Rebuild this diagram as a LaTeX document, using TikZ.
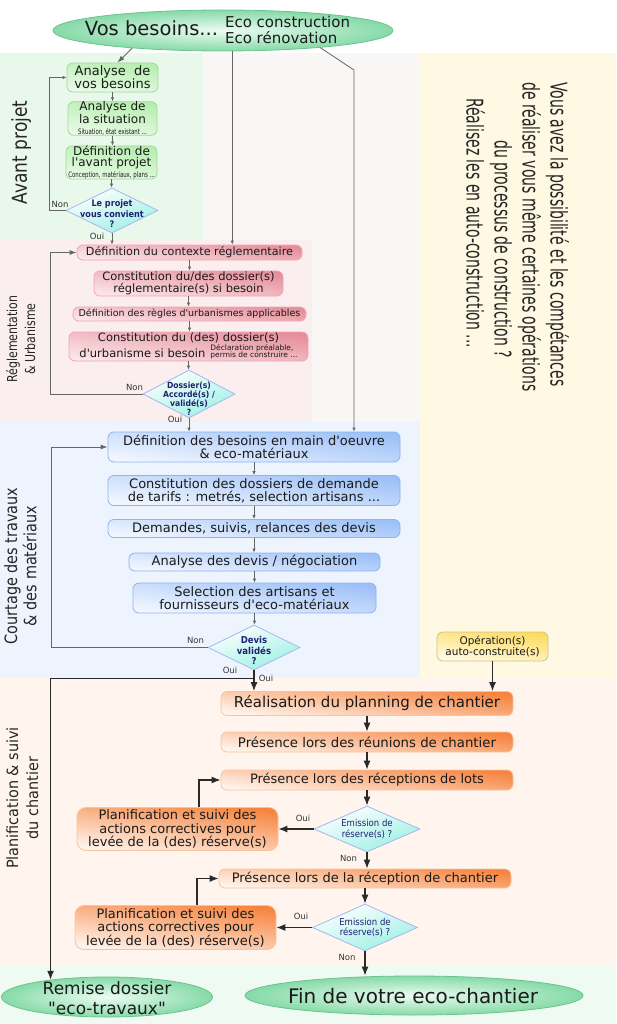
\documentclass[tikz,border=0pt]{standalone}
\usepackage{fontspec}
\usepackage{graphicx}
\setmainfont{DejaVu Sans}[Ligatures=TeXOff]
\newfontfamily\condf{DejaVu Sans Condensed}[Ligatures=TeXOff]
\usetikzlibrary{shapes.geometric,arrows.meta}
\newcommand{\setfs}[2]{\fontsize{#1}{#2}\selectfont}
\newcommand{\tinytxt}[1]{{\condf\setfs{7.5}{8}\scalebox{0.8}[1]{#1}}}
\definecolor{bgwhite}{HTML}{FFFFFF}
\definecolor{bggreen}{HTML}{E8F8EA}
\definecolor{bggray}{HTML}{F9F6F6}
\definecolor{bgpink}{HTML}{FBEEEE}
\definecolor{bgblue}{HTML}{EEF4FE}
\definecolor{bgyel}{HTML}{FFF8E2}
\definecolor{bgpeach}{HTML}{FFF5EE}
\definecolor{bggreentwo}{HTML}{EFFAF3}
\definecolor{gbd}{HTML}{A2D89C}\definecolor{gdk}{HTML}{B5EEAE}\definecolor{glt}{HTML}{EAFBE8}
\definecolor{pbd}{HTML}{F2A2BC}\definecolor{pdk}{HTML}{E58E9A}\definecolor{plt}{HTML}{FCE6E9}
\definecolor{bbd}{HTML}{8DB3F0}\definecolor{bdk}{HTML}{9CC0F8}\definecolor{blt}{HTML}{F2F7FF}
\definecolor{obd}{HTML}{F8C3A0}\definecolor{odk}{HTML}{F6843F}\definecolor{olt}{HTML}{FFF4EC}
\definecolor{ybd}{HTML}{C9C58E}\definecolor{ydk}{HTML}{FFDA5C}\definecolor{ylt}{HTML}{FFFBE8}
\definecolor{dbd}{HTML}{A8B6EE}\definecolor{ddk}{HTML}{9BF0E4}\definecolor{dlt}{HTML}{FFFFFF}
\definecolor{ebd}{HTML}{6CC48C}\definecolor{edk}{HTML}{86DAA8}\definecolor{elt}{HTML}{EDFCF2}
\definecolor{navy}{HTML}{1E2270}
\definecolor{txt}{HTML}{1A1A1A}
\definecolor{lgray}{HTML}{666666}
\definecolor{dline}{HTML}{2A2A2A}
\begin{document}
\begin{tikzpicture}[x=1pt,y=-1pt,
  every node/.style={inner sep=0pt, text=txt, align=center},
  box/.style={rectangle, rounded corners=6pt, line width=0.8pt},
  gbox/.style={box, draw=gbd, top color=gdk, bottom color=glt, shading angle=-8},
  pbox/.style={box, draw=pbd, top color=pdk, bottom color=plt, shading angle=-8},
  bbox/.style={box, draw=bbd, top color=bdk, bottom color=blt, shading angle=-8},
  obox/.style={box, draw=obd, top color=odk, bottom color=olt, shading angle=-8},
  ybox/.style={box, draw=ybd, top color=ydk, bottom color=ylt, shading angle=-8},
  dia/.style={diamond, aspect=2, draw=dbd, line width=0.8pt, top color=dlt, bottom color=ddk, shading angle=20},
  ell/.style={ellipse, draw=ebd, line width=0.8pt, inner color=elt, outer color=edk},
  dtxt/.style={text=navy, font=\condf\bfseries\setfs{9}{10.5}},
  lab/.style={font=\setfs{8.5}{9}, text=black!80},
  side/.style={rotate=90, text=black!85},
  arrS/.style={draw=lgray, line width=0.8pt, -{Latex[length=4pt,width=3.5pt]}},
  arrM/.style={draw=lgray, line width=0.9pt, -{Latex[length=7pt,width=5pt]}},
  arrL/.style={draw=dline, line width=1.1pt, -{Latex[length=9pt,width=7pt]}}
]
\useasboundingbox (0,0) rectangle (616,1024);
% background bands
\fill[bgwhite] (0,0) rectangle (616,53);
\fill[bggray] (203,53) rectangle (420,422);
\fill[bggreen] (0,53) rectangle (203,240);
\fill[bgpink] (0,240) rectangle (312,422);
\fill[bgblue] (0,422) rectangle (420,678);
\fill[bgyel] (420,53) rectangle (616,678);
\fill[bgpeach] (0,678) rectangle (616,965);
\fill[bggreentwo] (0,965) rectangle (616,1024);

% side labels
\node[side, anchor=base] (sAv) at (27,152.5) {\scalebox{0.83}[1]{\setfs{20.5}{22}Avant projet}};
\node[side] (sRe) at (22.5,339) {\scalebox{0.8}[1]{\setfs{13.7}{18}\begin{tabular}{@{}c@{}}Réglementation\\\& Urbanisme\end{tabular}}};
\node[side] (sCo) at (23,566) {\scalebox{0.85}[1]{\setfs{17}{19}\begin{tabular}{@{}c@{}}Courtage des travaux\\\& des matériaux\end{tabular}}};
\node[side] (sPl) at (24,798) {\scalebox{0.93}[1]{\setfs{15.5}{20}\begin{tabular}{@{}c@{}}Planification \& suivi\\du chantier\end{tabular}}};
\node[rotate=-90, anchor=north west, text=black!85] (sRight) at (570.5,82) {\scalebox{0.61}[1]{\setfs{23}{28}\begin{tabular}{@{}l@{}}Vous avez la possibilité et les compétances\\de réaliser vous même certaines opérations\\\hspace*{95pt}du processus de construction ?\\\hspace*{26pt}Réalisez les en auto-construction ...\end{tabular}}};

% top ellipse
\node[ell, minimum width=340, minimum height=41] (top) at (223,30.5) {};
\node (topt) at (217.5,32.3) {{\setfs{19.5}{20}Vos besoins...}\hspace{7pt}{\setfs{15}{16}\begin{tabular}{@{}l@{}}Eco construction\\Eco rénovation\end{tabular}}};
\coordinate (k3) at (354,70);

% avant projet
\node[gbox, minimum width=91, minimum height=29, font=\setfs{13}{13}] (ab) at (112.5,77.5) {Analyse\ \ de\\vos besoins};
\node[gbox, minimum width=89, minimum height=33, font=\setfs{12}{11}] (as) at (112.5,118.5) {Analyse de\\la situation\\\tinytxt{Situation, état existant ...}};
\node[gbox, minimum width=91, minimum height=33, font=\setfs{12}{11}] (dap) at (111.5,162.5) {Définition de\\l'avant projet\\\tinytxt{Conception, matériaux, plans ...}};
\node[dia, minimum width=92, minimum height=45] (d1) at (112,210.5) {};
\node[dtxt] (d1t) at (112,214) {Le projet\\vous convient\\?};
\node[lab] (n1) at (60,204) {Non};
\node[lab] (o1) at (97,236) {Oui};

% reglementation
\node[pbox, minimum width=225, minimum height=15, font=\setfs{11.2}{12}] (ctx) at (189.5,252.5) {Définition du contexte réglementaire};
\node[pbox, minimum width=189, minimum height=25, font=\setfs{11.5}{11.7}] (cr) at (188.5,283.5) {Constitution du/des dossier(s)\\réglementaire(s) si besoin};
\node[pbox, minimum width=233, minimum height=14, font=\setfs{9.5}{10}] (rg) at (189.5,314) {Définition des règles d'urbanismes applicables};
\node[pbox, minimum width=239, minimum height=29, font=\setfs{11.5}{13}] (urb) at (188.5,346.5) {Constitution du (des) dossier(s)\\d'urbanisme si besoin\hspace{5pt}{\setfs{7.5}{7.5}\begin{tabular}[b]{@{}l@{}}Déclaration préalable,\\permis de construire ...\end{tabular}}};
\node[dia, minimum width=92, minimum height=48] (d2) at (189,394) {};
\node[dtxt, font=\condf\bfseries\setfs{8.5}{9}] (d2t) at (189,398.5) {Dossier(s)\\Accordé(s) /\\validé(s)\\?};
\node[lab] (n2) at (134.5,387) {Non};
\node[lab] (o2) at (175,419) {Oui};

% courtage
\node[bbox, minimum width=292, minimum height=30, font=\setfs{13}{13.3}] (bes) at (254,447) {Définition des besoins en main d'oeuvre\\\& eco-matériaux};
\node[bbox, minimum width=292, minimum height=30, font=\setfs{13}{13.3}] (cd) at (254,490.5) {Constitution des dossiers de demande\\de tarifs : metrés, selection artisans ...};
\node[bbox, minimum width=292, minimum height=18, font=\setfs{13}{13.3}] (dm) at (254,528.5) {Demandes, suivis, relances des devis};
\node[bbox, minimum width=251, minimum height=18, font=\setfs{13}{13.3}] (an) at (254.5,562) {Analyse des devis / négociation};
\node[bbox, minimum width=243, minimum height=30, font=\setfs{13}{13.3}] (sl) at (254.5,598) {Selection des artisans et\\fournisseurs d'eco-matériaux};
\node[dia, minimum width=92, minimum height=45] (d3) at (254,647.5) {};
\node[dtxt, font=\condf\bfseries\setfs{9.5}{10.3}] (d3t) at (254,650.5) {Devis\\validés\\?};
\node[lab] (n3) at (195.5,640) {Non};
\node[lab] (o3a) at (230,670) {Oui};
\node[lab] (o3b) at (266,678) {Oui};

% auto-construction
\node[ybox, minimum width=111, minimum height=29, font=\setfs{10.5}{11}] (op) at (492.5,646.5) {Opération(s)\\auto-construite(s)};

% planification
\node[obox, minimum width=292, minimum height=24, font=\setfs{15}{16}] (real) at (367,703.5) {Réalisation du planning de chantier};
\node[obox, minimum width=292, minimum height=20, font=\setfs{13.3}{14}] (reu) at (367,742) {Présence lors des réunions de chantier};
\node[obox, minimum width=292, minimum height=20, font=\setfs{13}{14}] (lots) at (367,780) {Présence lors des réceptions de lots};
\node[dia, minimum width=106, minimum height=46] (e1) at (367,829) {};
\node[dtxt, font=\condf\setfs{9.5}{10.7}] (e1t) at (367,829) {Emission de\\réserve(s) ?};
\node[obox, rounded corners=9pt, minimum width=201, minimum height=43, font=\setfs{13}{13.5}] (pl1) at (177.5,829) {Planification et suivi des\\actions correctives pour\\levée de la (des) réserve(s)};
\node[obox, minimum width=292, minimum height=19, font=\setfs{13}{14}] (rec) at (365,878.5) {Présence lors de la réception de chantier};
\node[dia, minimum width=105, minimum height=47] (e2) at (365,927.5) {};
\node[dtxt, font=\condf\setfs{9.5}{10.7}] (e2t) at (365,927.5) {Emission de\\réserve(s) ?};
\node[obox, rounded corners=9pt, minimum width=201, minimum height=44, font=\setfs{13}{13.5}] (pl2) at (175.5,927.5) {Planification et suivi des\\actions correctives pour\\levée de la (des) réserve(s)};
\node[lab] (o4) at (303,818.7) {Oui};
\node[lab] (n4) at (348.5,858.7) {Non};
\node[lab] (o5) at (301,916.7) {Oui};
\node[lab] (n5) at (347,957) {Non};

% bottom ellipses
\node[ell, minimum width=211, minimum height=40] (rem) at (107,997) {};
\node[font=\setfs{17}{20}] (remt) at (107,998) {Remise dossier\\"eco-travaux"};
\node[ell, minimum width=338, minimum height=39] (fin) at (414,995.5) {};
\node[font=\setfs{20}{22}] (fint) at (413,996) {Fin de votre eco-chantier};

% connectors: top
\draw[arrM] (top.191) -- ([xshift=5pt]ab.north);
\draw[arrS] (top.-66) -- (top.-66 |- ctx.north);
\draw[arrS] (top.-10) -- (k3) -- (k3 |- bes.north);
% avant projet
\draw[arrS] (ab.south) -- (ab.south |- as.north);
\draw[arrS] (as.south) -- (as.south |- dap.north);
\draw[arrS] (dap.south) -- (dap.south |- d1.north);
\draw[arrS] (d1.west) -- ++(-16,0) |- (ab.west);
\draw[arrS] (d1.south) -- (d1.south |- ctx.north);
% reglementation
\draw[arrS] (ctx.south) -- (ctx.south |- cr.north);
\draw[arrS] (cr.south) -- (cr.south |- rg.north);
\draw[arrS] (rg.south) -- (rg.south |- urb.north);
\draw[arrS] (urb.south) -- (urb.south |- d2.north);
\draw[arrM] (d2.west) -- ++(-92,0) |- (ctx.west);
\draw[arrS] (d2.south) -- (d2.south |- bes.north);
% courtage
\draw[arrS] (bes.south) -- (bes.south |- cd.north);
\draw[arrS] (cd.south) -- (cd.south |- dm.north);
\draw[arrS] (dm.south) -- (dm.south |- an.north);
\draw[arrS] (an.south) -- (an.south |- sl.north);
\draw[arrS] (sl.south) -- (sl.south |- d3.north);
\draw[arrM] (d3.west) -- ++(-156,0) |- (bes.west);
\draw[arrL] (d3.south) -- (d3.south |- real.north);
\draw[arrL] (d3.south) ++(0,8) -| (rem.163);
\draw[arrL] (op.south) -- (op.south |- real.north);
% planification
\draw[arrL] (real.south) -- (real.south |- reu.north);
\draw[arrL] (reu.south) -- (reu.south |- lots.north);
\draw[arrL] (lots.south) -- (lots.south |- e1.north);
\draw[arrL] (e1.west) -- (pl1.east);
\draw[arrL] ([xshift=21.5pt]pl1.north) |- (lots.west);
\draw[arrL] (e1.south) -- (e1.south |- rec.north);
\draw[arrL] (rec.south) -- (rec.south |- e2.north);
\draw[arrL] (e2.west) -- (pl2.east);
\draw[arrL] ([xshift=21.5pt]pl2.north) |- (rec.west);
\draw[arrL] (e2.south) -- (e2.south |- fin.north);
\end{tikzpicture}
\end{document}
